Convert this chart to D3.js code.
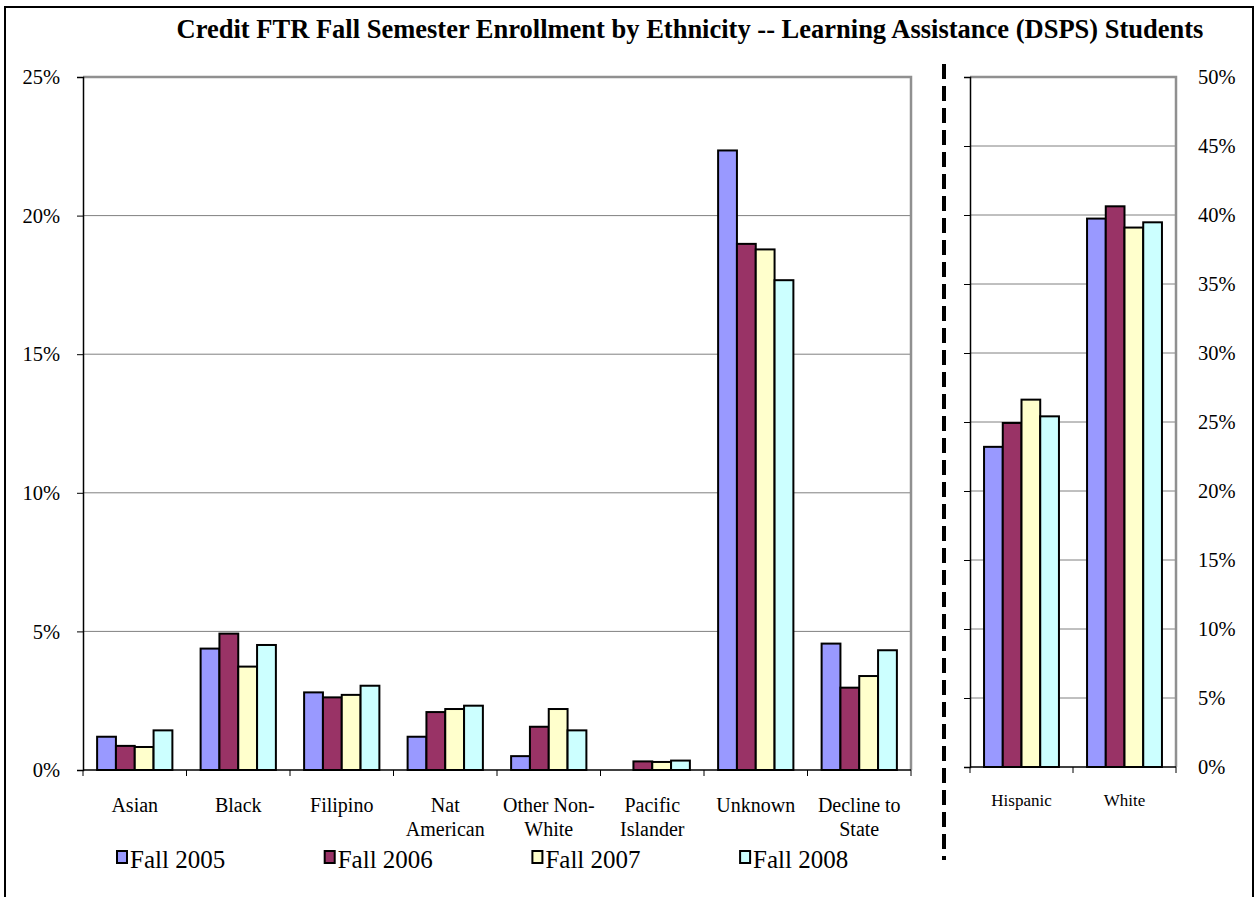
<!DOCTYPE html>
<html>
<head>
<meta charset="utf-8">
<script src="https://cdn.jsdelivr.net/npm/d3@7"></script>
<style>
  body { margin: 0; background: #fff; }
</style>
</head>
<body>
<div id="graph"></div>
<script>
// data (percent of enrollment)
var series = ["Fall 2005", "Fall 2006", "Fall 2007", "Fall 2008"];
var colors = ["#9999FF", "#993366", "#FFFFCC", "#CCFFFF"];

var leftCats = ["Asian", "Black", "Filipino", "Nat American", "Other Non-White", "Pacific Islander", "Unknown", "Decline to State"];
var leftLabels = [["Asian"], ["Black"], ["Filipino"], ["Nat", "American"], ["Other Non-", "White"], ["Pacific", "Islander"], ["Unknown"], ["Decline to", "State"]];
var fall2005 = [1.2, 4.38, 2.80, 1.2, 0.5, 0, 22.35, 4.56];
var fall2006 = [0.87, 4.92, 2.62, 2.09, 1.56, 0.31, 18.98, 2.97];
var fall2007 = [0.83, 3.73, 2.71, 2.2, 2.2, 0.29, 18.78, 3.39];
var fall2008 = [1.43, 4.51, 3.04, 2.32, 1.43, 0.34, 17.67, 4.32];

var rightCats = ["Hispanic", "White"];
var right2005 = [23.2, 39.74];
var right2006 = [24.93, 40.63];
var right2007 = [26.62, 39.09];
var right2008 = [25.41, 39.47];

var leftTicks = [0, 5, 10, 15, 20, 25];
var rightTicks = [0, 5, 10, 15, 20, 25, 30, 35, 40, 45, 50];

var width = 1256, height = 897;
var serif = "'Liberation Serif', 'Times New Roman', 'DejaVu Serif', serif";

var svg = d3.select("#graph")
  .append("svg")
  .attr("width", width)
  .attr("height", height)
  .attr("font-family", serif);

// outer frame
svg.append("rect")
  .attr("x", 5).attr("y", 7)
  .attr("width", 1248).attr("height", 900)
  .attr("fill", "none")
  .attr("stroke", "#000")
  .attr("stroke-width", 2);

// title
svg.append("text")
  .attr("x", 690).attr("y", 38)
  .attr("text-anchor", "middle")
  .attr("font-family", serif)
  .attr("font-weight", "bold")
  .attr("font-size", "26.5px")
  .text("Credit FTR Fall Semester Enrollment by Ethnicity -- Learning Assistance (DSPS) Students");

function rows(cats, vals) {
  return cats.map(function(c, i) {
    return { cat: c, values: series.map(function(s, j) { return { key: s, value: vals[j][i] }; }) };
  });
}

function panel(opts) {
  var g = svg.append("g").attr("transform", "translate(" + opts.left + "," + opts.top + ")");
  var w = opts.width, h = opts.height;

  var y = d3.scaleLinear().domain([0, opts.max]).range([h, 0]);
  var x0 = d3.scaleBand().domain(opts.cats).range([0, w])
    .paddingInner(1.5 / 5.5).paddingOuter(0.75 / 5.5);
  var x1 = d3.scaleBand().domain(series).range([0, x0.bandwidth()]);
  var color = d3.scaleOrdinal().domain(series).range(colors);

  // gridlines
  g.append("g")
    .selectAll("line")
    .data(opts.ticks.slice(1))
    .enter().append("line")
      .attr("x1", 0).attr("x2", w)
      .attr("y1", function(d) { return y(d); })
      .attr("y2", function(d) { return y(d); })
      .attr("stroke", "#808080")
      .attr("stroke-width", 1);

  // plot border top/right
  g.append("path")
    .attr("d", "M0,0H" + w + "V" + h)
    .attr("fill", "none")
    .attr("stroke", "#909090")
    .attr("stroke-width", 2.5);

  // bars
  var grp = g.selectAll(".grp")
    .data(rows(opts.cats, opts.vals))
    .enter().append("g")
      .attr("transform", function(d) { return "translate(" + x0(d.cat) + ",0)"; });

  grp.selectAll("rect")
    .data(function(d) { return d.values.filter(function(v) { return v.value > 0; }); })
    .enter().append("rect")
      .attr("x", function(d) { return x1(d.key); })
      .attr("y", function(d) { return y(d.value); })
      .attr("width", x1.bandwidth())
      .attr("height", function(d) { return h - y(d.value); })
      .attr("fill", function(d) { return color(d.key); })
      .attr("stroke", "#000")
      .attr("stroke-width", 2);

  // value axis (ticks on the left side)
  var yAxis = d3.axisLeft(y).tickValues(opts.ticks).tickSize(6).tickFormat("");
  var ya = g.append("g").call(yAxis);
  ya.select(".domain").attr("stroke", "#000").attr("stroke-width", 1.5);
  ya.selectAll(".tick line").attr("stroke", "#000");

  g.append("g").selectAll("text")
    .data(opts.ticks)
    .enter().append("text")
      .attr("x", opts.labelX)
      .attr("y", function(d) { return y(d); })
      .attr("dy", "0.35em")
      .attr("text-anchor", opts.labelAnchor)
      .attr("font-family", serif)
      .attr("font-size", "20.5px")
      .text(function(d) { return d + "%"; });

  // category axis
  var xg = g.append("g").attr("transform", "translate(0," + h + ")");
  xg.append("line").attr("x1", 0).attr("x2", w).attr("stroke", "#000").attr("stroke-width", 1.5);
  xg.selectAll(".ct")
    .data(d3.range(opts.cats.length + 1))
    .enter().append("line")
      .attr("x1", function(i) { return i * x0.step(); })
      .attr("x2", function(i) { return i * x0.step(); })
      .attr("y1", 0).attr("y2", 6)
      .attr("stroke", "#000");

  var lab = xg.selectAll(".cl")
    .data(opts.cats)
    .enter().append("text")
      .attr("text-anchor", "middle")
      .attr("font-family", serif)
      .attr("font-size", opts.catFont)
      .attr("transform", function(d) { return "translate(" + (x0(d) + x0.bandwidth() / 2) + "," + opts.catY + ")"; });
  lab.selectAll("tspan")
    .data(function(d, i) { return opts.labels[i]; })
    .enter().append("tspan")
      .attr("x", 0)
      .attr("dy", function(d, i) { return i === 0 ? 0 : 24; })
      .text(function(d) { return d; });
}

panel({
  left: 83, top: 77, width: 828, height: 693, max: 25,
  cats: leftCats, labels: leftLabels,
  vals: [fall2005, fall2006, fall2007, fall2008],
  ticks: leftTicks, labelX: -23, labelAnchor: "end",
  catFont: "20px", catY: 42
});

panel({
  left: 970, top: 77, width: 206, height: 690, max: 50,
  cats: rightCats, labels: rightCats.map(function(c) { return [c]; }),
  vals: [right2005, right2006, right2007, right2008],
  ticks: rightTicks, labelX: 228, labelAnchor: "start",
  catFont: "17px", catY: 39
});

// dashed separator
svg.append("line")
  .attr("x1", 944).attr("x2", 944)
  .attr("y1", 64).attr("y2", 860)
  .attr("stroke", "#000")
  .attr("stroke-width", 4)
  .attr("stroke-dasharray", "15,7");

// legend
var legend = svg.append("g").selectAll("g")
  .data(series)
  .enter().append("g")
    .attr("transform", function(d, i) { return "translate(" + (117 + i * 207.7) + ",850)"; });

legend.append("rect")
  .attr("x", 0).attr("y", 1)
  .attr("width", 10).attr("height", 12)
  .attr("fill", function(d, i) { return colors[i]; })
  .attr("stroke", "#000")
  .attr("stroke-width", 2);

legend.append("text")
  .attr("x", 13).attr("y", 18)
  .attr("font-family", serif)
  .attr("font-size", "25px")
  .text(function(d) { return d; });
</script>
</body>
</html>
